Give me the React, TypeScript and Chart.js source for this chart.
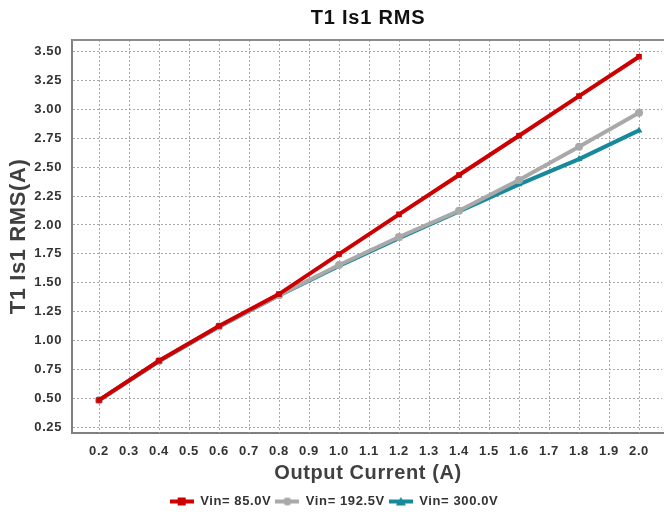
import React, { useEffect, useRef } from "react";
import { Chart, registerables } from "chart.js";

Chart.register(...registerables);

const currents = [0.2, 0.4, 0.6, 0.8, 1.0, 1.2, 1.4, 1.6, 1.8, 2.0];
const vin85 = [0.485, 0.825, 1.126, 1.402, 1.748, 2.092, 2.432, 2.772, 3.115, 3.455];
const vin1925 = [0.483, 0.822, 1.122, 1.392, 1.653, 1.896, 2.123, 2.389, 2.677, 2.971];
const vin300 = [0.482, 0.821, 1.12, 1.389, 1.645, 1.885, 2.118, 2.351, 2.57, 2.818];
const seriesNames = ["Vin= 85.0V", "Vin= 192.5V", "Vin= 300.0V"];
const xTicks = [0.2, 0.3, 0.4, 0.5, 0.6, 0.7, 0.8, 0.9, 1.0, 1.1, 1.2, 1.3, 1.4, 1.5, 1.6, 1.7, 1.8, 1.9, 2.0];
const yTicks = [0.25, 0.5, 0.75, 1.0, 1.25, 1.5, 1.75, 2.0, 2.25, 2.5, 2.75, 3.0, 3.25, 3.5];

const RED = "#CC0000";
const GRAY = "#A9A9A9";
const TEAL = "#17899A";
const GRID = "#a8a8a8";
const FONT = "'Liberation Sans', Arial, sans-serif";

function legendIcon(color: string, shape: string): HTMLCanvasElement {
  const c = document.createElement("canvas");
  c.width = 24;
  c.height = 10;
  const g = c.getContext("2d")!;
  g.strokeStyle = color;
  g.lineWidth = 4;
  g.beginPath();
  g.moveTo(0, 5);
  g.lineTo(24, 5);
  g.stroke();
  g.fillStyle = color;
  if (shape === "rect") {
    g.fillRect(8, 1, 8, 8);
  } else if (shape === "circle") {
    g.beginPath();
    g.arc(12, 5, 4, 0, Math.PI * 2);
    g.fill();
  } else {
    g.beginPath();
    g.moveTo(12, 0.5);
    g.lineTo(17, 9);
    g.lineTo(7, 9);
    g.closePath();
    g.fill();
  }
  return c;
}

export default function App() {
  const ref = useRef<HTMLCanvasElement>(null);
  useEffect(() => {
    if (!ref.current) return;
    const icons = [legendIcon(RED, "rect"), legendIcon(GRAY, "circle"), legendIcon(TEAL, "triangle")];
    const spacingPlugin = {
      id: "spacing",
      beforeLayout(chart: any) {
        chart.ctx.letterSpacing = "0.6px";
      },
      beforeDraw(chart: any) {
        chart.ctx.letterSpacing = "0.6px";
      },
    };
    const gridPlugin = {
      id: "xgrid",
      beforeDatasetsDraw(chart: any) {
        const { ctx, chartArea } = chart;
        const sx = chart.scales.x;
        ctx.save();
        ctx.fillStyle = "#ffffff";
        ctx.fillRect(chart.width - 2, chartArea.top + 1, 2, chartArea.bottom - chartArea.top - 2);
        ctx.strokeStyle = GRID;
        ctx.lineWidth = 1;
        ctx.setLineDash([2, 2]);
        xTicks.forEach((v) => {
          const px = Math.round(sx.getPixelForValue(v)) + 0.5;
          ctx.beginPath();
          ctx.moveTo(px, chartArea.top);
          ctx.lineTo(px, chartArea.bottom);
          ctx.stroke();
        });
        ctx.restore();
      },
    };
    const titlePlugin = {
      id: "customTitle",
      afterDraw(chart: any) {
        const { ctx, chartArea } = chart;
        ctx.save();
        ctx.font = `bold 20px ${FONT}`;
        ctx.letterSpacing = "0.8px";
        ctx.fillStyle = "#111111";
        ctx.textAlign = "center";
        ctx.textBaseline = "middle";
        ctx.fillText("T1 Is1 RMS", (chartArea.left + chartArea.right) / 2, 18);
        ctx.strokeStyle = "#8c8c8c";
        ctx.lineWidth = 2;
        ctx.beginPath();
        ctx.moveTo(chartArea.left, chartArea.top);
        ctx.lineTo(chart.width, chartArea.top);
        ctx.stroke();
        ctx.restore();
      },
    };
    const mk = (label: string, data: number[], color: string, style: string) => ({
      label,
      data: currents.map((x, i) => ({ x, y: data[i] })),
      borderColor: color,
      backgroundColor: color,
      borderWidth: 4,
      pointStyle: style,
      pointRadius: 4,
      pointBorderWidth: 0,
      tension: 0,
    });
    const chart = new Chart(ref.current, {
      type: "line",
      data: {
        datasets: [
          mk(seriesNames[0], vin85, RED, "rect"),
          mk(seriesNames[1], vin1925, GRAY, "circle"),
          mk(seriesNames[2], vin300, TEAL, "triangle"),
        ],
      },
      plugins: [spacingPlugin, gridPlugin, titlePlugin],
      options: {
        animation: false,
        responsive: false,
        maintainAspectRatio: false,
        layout: { autoPadding: false, padding: { top: 40, left: 0, right: -4, bottom: -2 } },
        plugins: {
          title: { display: false },
          tooltip: { enabled: false },
          legend: {
            position: "bottom",
            labels: {
              usePointStyle: true,
              pointStyleWidth: 24,
              padding: 4,
              color: "#333333",
              font: { family: FONT, size: 13, weight: "bold" },
              generateLabels(chart: any) {
                const items = Chart.defaults.plugins.legend.labels.generateLabels(chart);
                items.forEach((it: any, i: number) => {
                  it.pointStyle = icons[i];
                });
                return items;
              },
            },
          },
        },
        scales: {
          x: {
            type: "linear",
            min: 0.11,
            max: 2.0833,
            afterBuildTicks(scale: any) {
              scale.ticks = xTicks.map((v) => ({ value: v }));
            },
            afterFit(scale: any) {
              scale.height = 58;
            },
            ticks: {
              color: "#333333",
              font: { family: FONT, size: 13, weight: "bold" },
              padding: 11,
              maxRotation: 0,
              autoSkip: false,
              callback: (v: any) => Number(v).toFixed(1),
            },
            grid: { display: false, drawTicks: false },
            border: { display: true, color: "#808080", width: 2 },
            title: {
              display: true,
              text: "Output Current (A)",
              color: "#404040",
              font: { family: FONT, size: 20, weight: "bold" },
              padding: { top: 2, bottom: 6 },
            },
          },
          y: {
            type: "linear",
            min: 0.2,
            max: 3.6,
            afterBuildTicks(scale: any) {
              scale.ticks = yTicks.map((v) => ({ value: v }));
            },
            afterFit(scale: any) {
              scale.width = 72;
            },
            ticks: {
              color: "#333333",
              font: { family: FONT, size: 13, weight: "bold" },
              padding: 10,
              callback: (v: any) => Number(v).toFixed(2),
            },
            grid: {
              color: GRID,
              lineWidth: 1,
              drawTicks: false,
            },
            border: { display: true, color: "#808080", width: 2, dash: [2, 2] },
            title: {
              display: true,
              text: "T1 Is1 RMS(A)",
              color: "#404040",
              font: { family: FONT, size: 22, weight: "bold" },
              padding: { top: 6, bottom: 0 },
            },
          },
        },
      },
    } as any);
    return () => chart.destroy();
  }, []);
  return (
    <div style={{ position: "fixed", left: 0, top: 0, width: 664, height: 516, background: "#fff" }}>
      <canvas ref={ref} width={664} height={516} style={{ display: "block" }} />
    </div>
  );
}
